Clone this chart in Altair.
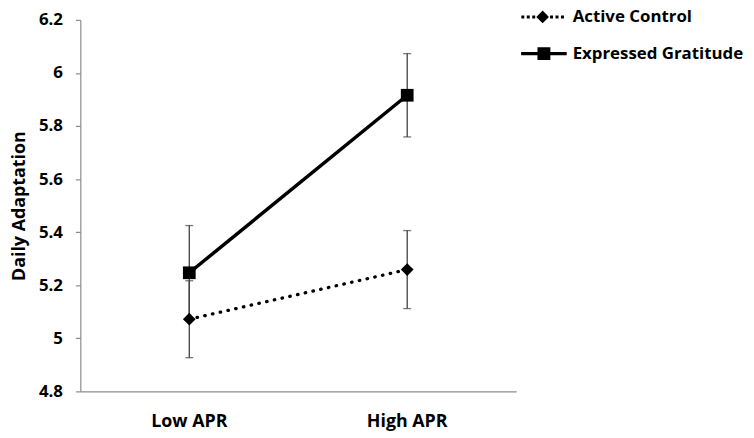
import altair as alt
import pandas as pd

conditions = ["Low APR", "High APR"]
groups = ["Active Control", "Expressed Gratitude"]
control_mean = [5.072, 5.259]
control_err = [0.145, 0.147]
gratitude_mean = [5.247, 5.916]
gratitude_err = [0.178, 0.157]
y_ticks = [4.8, 5.0, 5.2, 5.4, 5.6, 5.8, 6.0, 6.2]
markers = {"Active Control": "diamond", "Expressed Gratitude": "square"}

rows = []
for g, means, errs in [(groups[0], control_mean, control_err),
                       (groups[1], gratitude_mean, gratitude_err)]:
    for c, m, e in zip(conditions, means, errs):
        rows.append({"condition": c, "group": g, "marker": markers[g],
                     "mean": m, "lo": m - e, "hi": m + e})
df = pd.DataFrame(rows)

FONT = "Open Sans"
AXIS_GRAY = "#8c8c8c"
ERR_COLOR = "#404040"

# legend symbol paths (unit = sqrt(symbolSize)/2 px)
SYM_SIZE = 1444
u = (SYM_SIZE ** 0.5) / 2


def rect(cx, cy, w, h):
    x0, x1 = (cx - w / 2) / u, (cx + w / 2) / u
    y0, y1 = (cy - h / 2) / u, (cy + h / 2) / u
    return f"M{x0:.3f},{y0:.3f}H{x1:.3f}V{y1:.3f}H{x0:.3f}Z"


def diamond(cx, cy, r):
    return (f"M{(cx - r) / u:.3f},{cy / u:.3f}L{cx / u:.3f},{(cy - r) / u:.3f}"
            f"L{(cx + r) / u:.3f},{cy / u:.3f}L{cx / u:.3f},{(cy + r) / u:.3f}Z")


ctrl_path = "".join(rect(dx - 1.3, 0, 3, 3) for dx in [-20, -14.5, -9, 9, 14.5, 20]) + diamond(-1.3, 0, 6.4)
grat_path = rect(0, 0, 46, 3.2) + rect(0, 0, 13, 13)
sym_expr = f"datum.value === '{groups[0]}' ? '{ctrl_path}' : '{grat_path}'"

x_enc = alt.X(
    "condition:N",
    sort=conditions,
    scale=alt.Scale(paddingInner=0, paddingOuter=0),
    axis=alt.Axis(title=None, ticks=False, labelAngle=0, labelFont=FONT, labelFontSize=18,
                  labelFontWeight="bold", labelColor="black", labelPadding=21,
                  domainColor=AXIS_GRAY, domainWidth=1.2),
)
y_scale = alt.Scale(domain=[4.8, 6.2], nice=False, zero=False)
y_enc = alt.Y(
    "mean:Q",
    scale=y_scale,
    axis=alt.Axis(values=y_ticks, format="~g", tickSize=5, tickColor=AXIS_GRAY, tickWidth=1.2,
                  domainColor=AXIS_GRAY, domainWidth=1.2, grid=False, labelFont=FONT,
                  labelFontSize=17, labelFontWeight="bold", labelColor="black", labelPadding=13,
                  title="Daily Adaptation", titleFont=FONT, titleFontSize=18,
                  titleFontWeight="bold", titleColor="black", titlePadding=10),
)

base = alt.Chart(df)

err_rule = base.mark_rule(color=ERR_COLOR, strokeWidth=1.3).encode(
    x=x_enc, y=alt.Y("lo:Q", scale=y_scale), y2="hi:Q")
err_lo = base.mark_tick(color=ERR_COLOR, size=8, thickness=1.3).encode(
    x=x_enc, y=alt.Y("lo:Q", scale=y_scale))
err_hi = base.mark_tick(color=ERR_COLOR, size=8, thickness=1.3).encode(
    x=x_enc, y=alt.Y("hi:Q", scale=y_scale))

line_ctrl = base.transform_filter(alt.datum.group == groups[0]).mark_line(
    color="black", strokeWidth=3.3, strokeDash=[0.5, 7.5], strokeCap="round").encode(x=x_enc, y=y_enc)
line_grat = base.transform_filter(alt.datum.group == groups[1]).mark_line(
    color="black", strokeWidth=3.5).encode(x=x_enc, y=y_enc)

points = base.mark_point(filled=True, opacity=1, size=165).encode(
    x=x_enc,
    y=y_enc,
    shape=alt.Shape("marker:N", scale=None),
    color=alt.Color(
        "group:N",
        scale=alt.Scale(domain=groups, range=["black", "black"]),
        legend=alt.Legend(
            title=None, orient="none", legendX=449, legendY=-22, symbolSize=SYM_SIZE,
            symbolType={"expr": sym_expr}, symbolStrokeWidth=0, symbolOpacity=1,
            labelFont=FONT, labelFontSize=17, labelFontWeight="bold", labelColor="black",
            labelOffset=10, rowPadding=10, padding=0, labelLimit=400,
        ),
    ),
)

chart = alt.layer(err_rule, err_lo, err_hi, line_ctrl, line_grat, points).properties(
    width=440, height=375,
    autosize=alt.AutoSizeParams(type="none"),
    padding={"left": 73, "top": 10, "right": 232, "bottom": 40},
).configure_view(stroke=None)

chart.save("out.html", embed_options={"renderer": "svg", "actions": False})
